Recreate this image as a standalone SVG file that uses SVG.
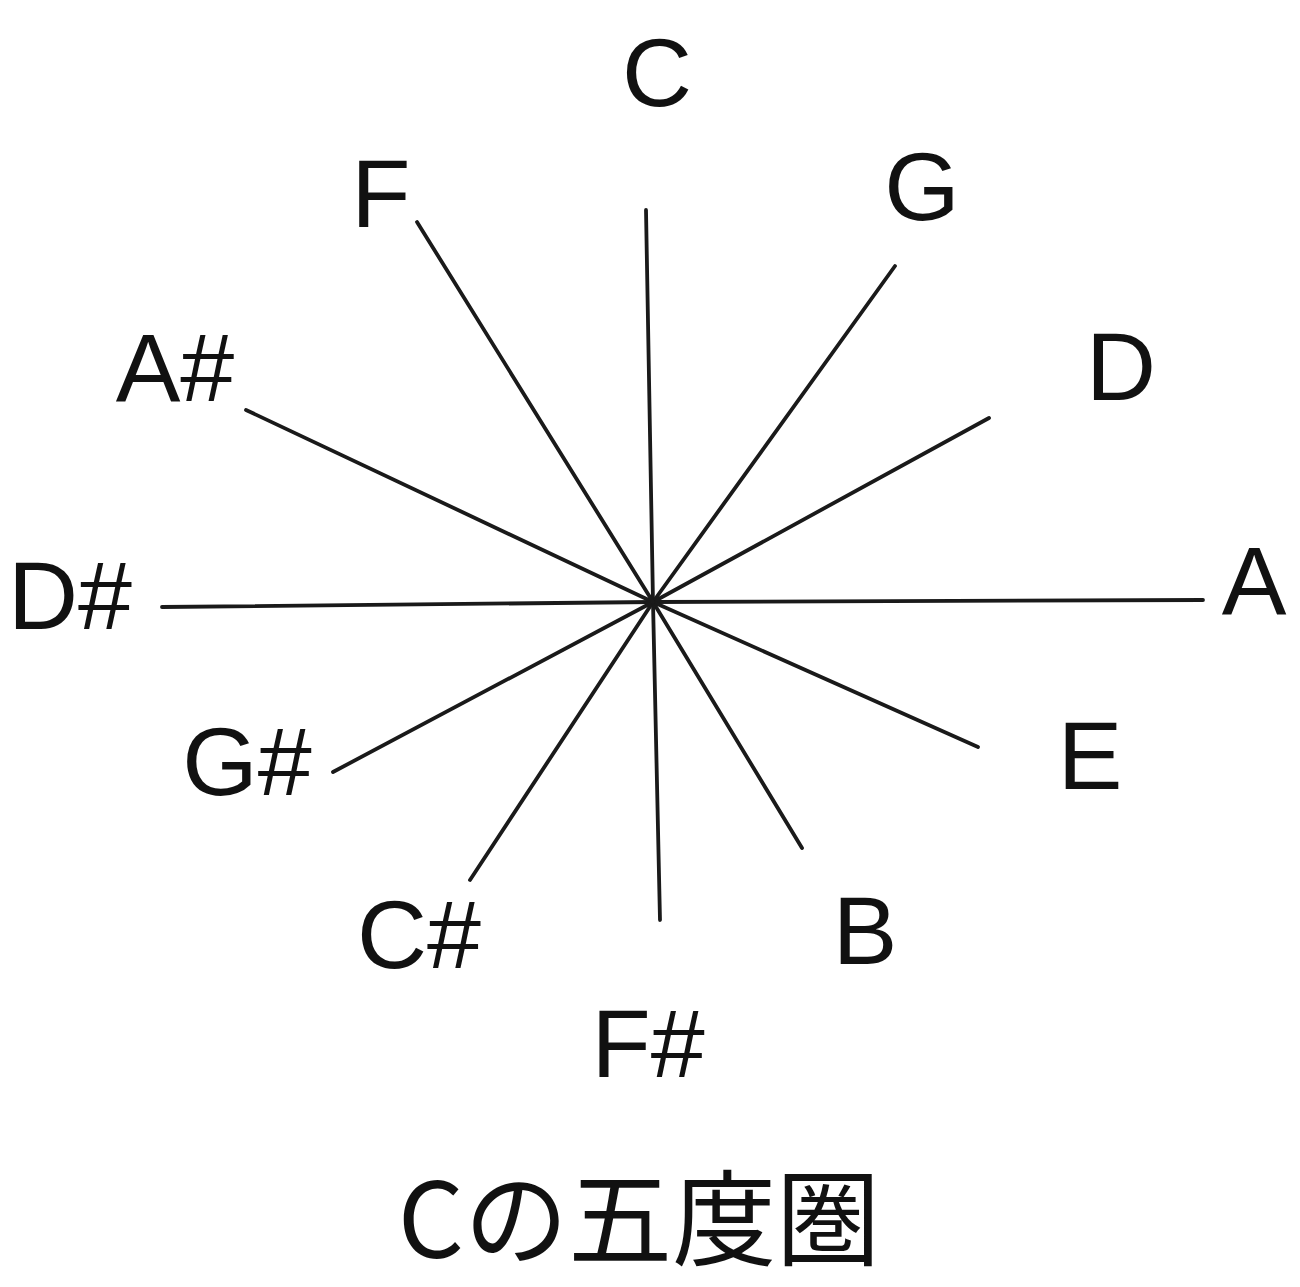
<svg xmlns="http://www.w3.org/2000/svg" width="1300" height="1287" viewBox="0 0 1300 1287">
<style>
.lbl{font-family:"Liberation Sans",Arial,sans-serif;font-size:97px;fill:#111;text-anchor:middle}
.title{font-family:"Noto Sans CJK JP","Noto Sans CJK SC",sans-serif;font-size:104px;fill:#111;text-anchor:middle}
.ray{stroke:#1a1a1a;stroke-width:3.8;stroke-linecap:round;fill:none}
</style>
<rect width="1300" height="1287" fill="#fff"/>
<g id="connectors">
<line class="ray" x1="653" y1="602" x2="646" y2="210"/>
<line class="ray" x1="653" y1="602" x2="895" y2="266"/>
<line class="ray" x1="653" y1="602" x2="989" y2="418"/>
<line class="ray" x1="653" y1="602" x2="1203" y2="600"/>
<line class="ray" x1="653" y1="602" x2="978" y2="747"/>
<line class="ray" x1="653" y1="602" x2="802" y2="848"/>
<line class="ray" x1="653" y1="602" x2="660" y2="920"/>
<line class="ray" x1="653" y1="602" x2="470" y2="880"/>
<line class="ray" x1="653" y1="602" x2="333" y2="772"/>
<line class="ray" x1="653" y1="602" x2="162" y2="607"/>
<line class="ray" x1="653" y1="602" x2="246" y2="410"/>
<line class="ray" x1="653" y1="602" x2="417" y2="222"/>
</g>
<g id="node-C"><text class="lbl" x="657" y="106">C</text></g>
<g id="node-G"><text class="lbl" x="922" y="220">G</text></g>
<g id="node-D"><text class="lbl" x="1121" y="400">D</text></g>
<g id="node-A"><text class="lbl" x="1254" y="614">A</text></g>
<g id="node-E"><text class="lbl" x="1090" y="789">E</text></g>
<g id="node-B"><text class="lbl" x="865" y="964">B</text></g>
<g id="node-Fs"><text class="lbl" x="648" y="1077">F#</text></g>
<g id="node-Cs"><text class="lbl" x="419" y="968">C#</text></g>
<g id="node-Gs"><text class="lbl" x="247" y="795">G#</text></g>
<g id="node-Ds"><text class="lbl" x="70" y="629">D#</text></g>
<g id="node-As"><text class="lbl" x="175" y="401">A#</text></g>
<g id="node-F"><text class="lbl" x="381" y="227">F</text></g>
<g id="title"><text class="title" x="639" y="1258">Cの五度圏</text></g>
</svg>
